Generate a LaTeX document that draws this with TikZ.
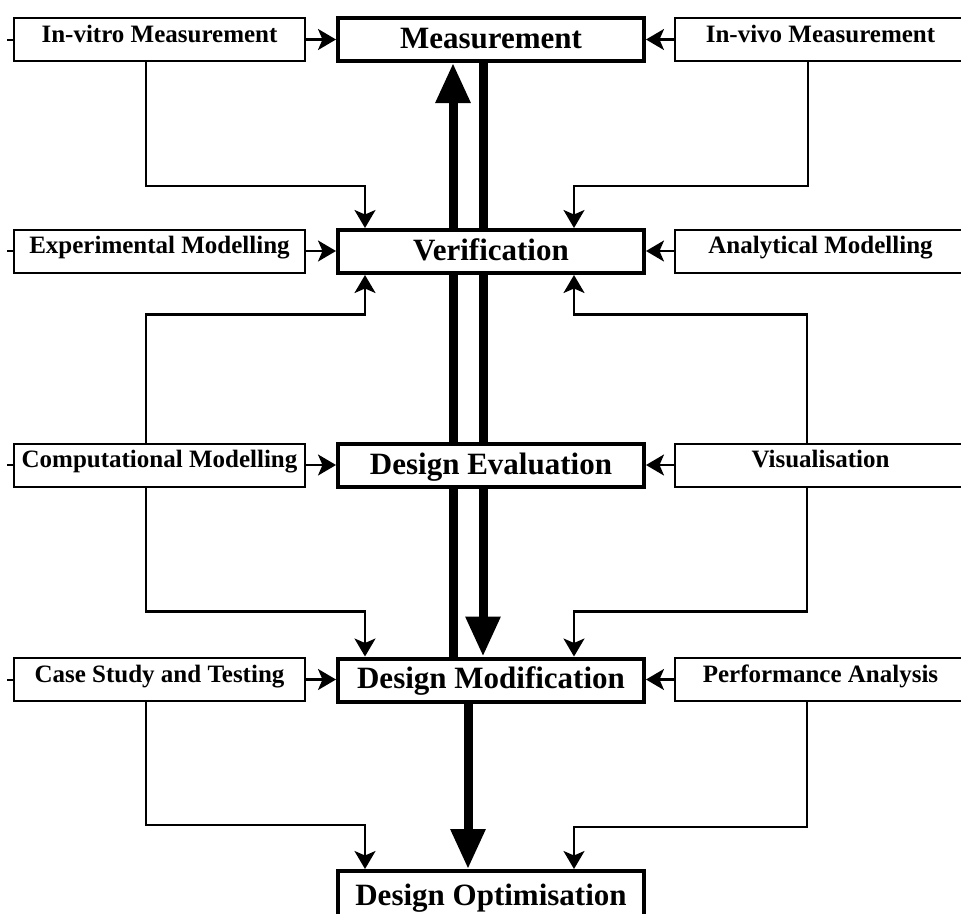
\documentclass[tikz,border=0pt]{standalone}
\usepackage{fontspec}
\setmainfont{Liberation Serif}
\usetikzlibrary{arrows.meta,backgrounds}
\begin{document}
\begin{tikzpicture}[x=1pt,y=-1pt,
  sidebox/.style={draw, line width=2pt, fill=white, minimum width=291pt, minimum height=43pt, inner sep=0pt,
    font=\fontsize{25}{25}\selectfont\bfseries, text height=17pt, text depth=12pt},
  mainbox/.style={draw, line width=4pt, fill=white, minimum width=306pt, minimum height=43pt, inner sep=0pt,
    font=\fontsize{31}{31}\selectfont\bfseries, text height=21pt, text depth=4pt},
  feed/.style={line width=2.2pt, -{Stealth[length=18pt,width=21pt,inset=4.5pt]}},
  tick/.style={line width=2pt},
  bigarrow/.style={line width=9pt, -{Triangle[length=40pt,width=33pt]}}
]
\useasboundingbox (0,0) rectangle (961,913);

% main column
\node[mainbox] (meas)  at (491,39.5)  {Measurement};
\node[mainbox] (ver)   at (491,251.5) {Verification};
\node[mainbox] (deval) at (491,465.5) {Design Evaluation};
\node[mainbox] (dmod)  at (491,680)   {Design Modification};
\node[mainbox, minimum height=56pt, text depth=9pt] (dopt) at (491,899) {Design Optimisation};

% left column
\node[sidebox] (invitro) at (159.5,39.5)  {In-vitro Measurement};
\node[sidebox] (expmod)  at (159.5,251)   {Experimental Modelling};
\node[sidebox] (compmod) at (159.5,465)   {Computational Modelling};
\node[sidebox] (casest)  at (159.5,679.5) {Case Study and Testing};

% right column
\node[sidebox] (invivo) at (820.5,39.5)  {In-vivo Measurement};
\node[sidebox] (anamod) at (820.5,251)   {Analytical Modelling};
\node[sidebox] (visual) at (820.5,465)   {Visualisation};
\node[sidebox] (perf)   at (820.5,679.5) {Performance Analysis};

% small ticks at the left edge
\coordinate (t1) at (7,39.5);
\coordinate (t2) at (7,251);
\coordinate (t3) at (7,465);
\coordinate (t4) at (7,679.5);
\draw[tick] (t1) -- (invitro.west);
\draw[tick] (t2) -- (expmod.west);
\draw[tick] (t3) -- (compmod.west);
\draw[tick] (t4) -- (casest.west);

% horizontal feeds
\draw[feed] (invitro.east) -- (invitro.east -| meas.west);
\draw[feed] (expmod.east)  -- (expmod.east -| ver.west);
\draw[feed] (compmod.east) -- (compmod.east -| deval.west);
\draw[feed] (casest.east)  -- (casest.east -| dmod.west);
\draw[feed] (invivo.west)  -- (invivo.west -| meas.east);
\draw[feed] (anamod.west)  -- (anamod.west -| ver.east);
\draw[feed] (visual.west)  -- (visual.west -| deval.east);
\draw[feed] (perf.west)    -- (perf.west -| dmod.east);

% bent feeds
\draw[feed] ([xshift=-13.5pt]invitro.south) -- ++(0,124) -| ([xshift=-126pt]ver.north);
\draw[feed] ([xshift=-12.5pt]invivo.south)  -- ++(0,124) -| ([xshift=83pt]ver.north);
\draw[feed] ([xshift=-13.5pt]compmod.north) -- ++(0,-128) -| ([xshift=-126pt]ver.south);
\draw[feed] ([xshift=-13.5pt]visual.north)  -- ++(0,-128) -| ([xshift=83pt]ver.south);
\draw[feed] ([xshift=-13.5pt]compmod.south) -- ++(0,124) -| ([xshift=-126pt]dmod.north);
\draw[feed] ([xshift=-13.5pt]visual.south)  -- ++(0,124) -| ([xshift=83pt]dmod.north);
\draw[feed] ([xshift=-13.5pt]casest.south)  -- ++(0,123) -| ([xshift=-126pt]dopt.north);
\draw[feed] ([xshift=-13.5pt]perf.south)    -- ++(0,125) -| ([xshift=83pt]dopt.north);

% thick flow arrows behind the main boxes
\begin{scope}[on background layer]
  \draw[bigarrow] ([xshift=-38pt]dmod.north) -- ([xshift=-38pt]meas.south);
  \draw[bigarrow] ([xshift=-8pt]meas.south)  -- ([xshift=-8pt]dmod.north);
  \draw[bigarrow] ([xshift=-23pt]dmod.south) -- ([xshift=-23pt]dopt.north);
\end{scope}
\end{tikzpicture}
\end{document}
